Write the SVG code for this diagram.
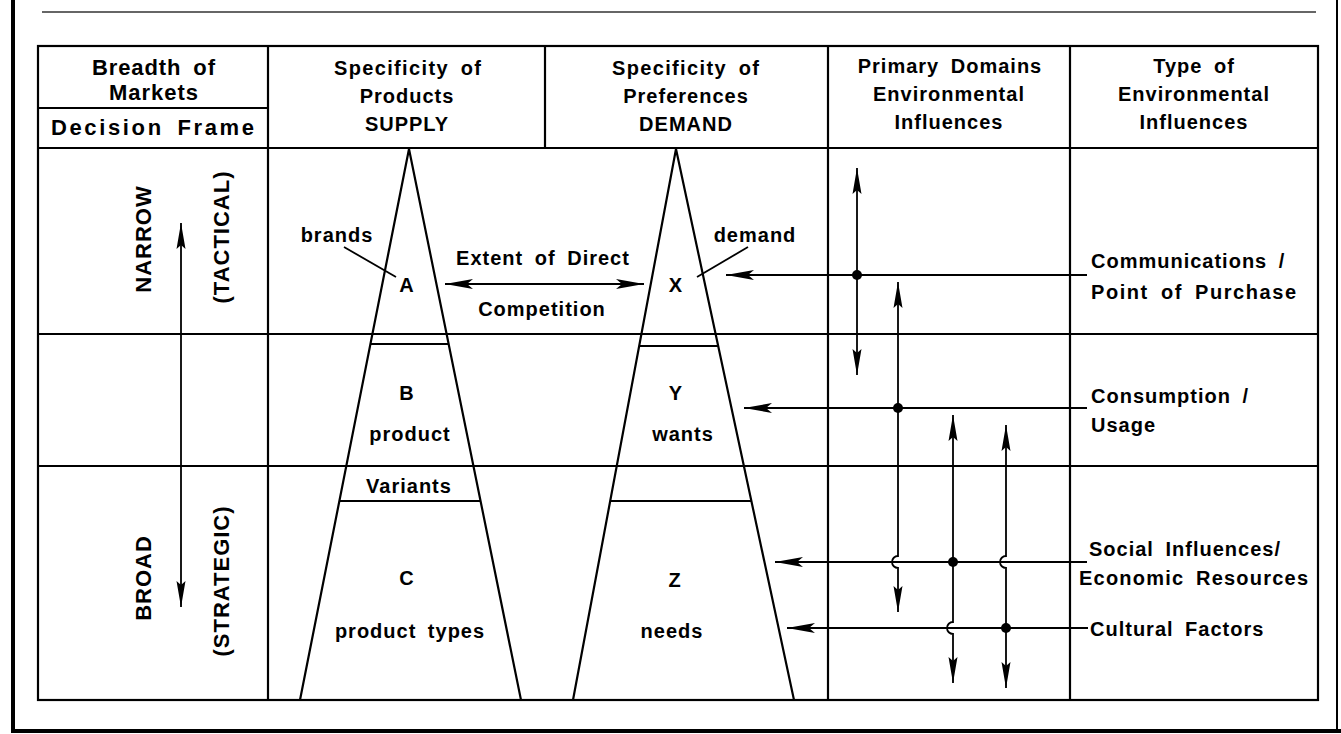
<svg xmlns="http://www.w3.org/2000/svg" width="1341" height="734" viewBox="0 0 1341 734">
<style>
  .ln { stroke:#000; stroke-width:2.2; fill:none; }
  .thin { stroke:#000; stroke-width:1.8; fill:none; }
  .t { font-family:"Liberation Sans", Arial, sans-serif; font-weight:bold; font-size:20px; fill:#000; letter-spacing:1px; word-spacing:5px; }
  .c { text-anchor:middle; }
  .big { font-size:22px; }
  .dot { fill:#000; }
</style>
<defs>
  <marker id="arrV" markerUnits="userSpaceOnUse" markerWidth="30" markerHeight="12" viewBox="-28 -6 30 12" refX="0" refY="0" orient="auto-start-reverse">
    <path d="M0,0 L-26,-4.5 L-22,0 L-26,4.5 Z" fill="#000"/>
  </marker>
  <marker id="arrH" markerUnits="userSpaceOnUse" markerWidth="32" markerHeight="12" viewBox="-30 -6 32 12" refX="0" refY="0" orient="auto-start-reverse">
    <path d="M0,0 L-28,-5 L-22,0 L-28,5 Z" fill="#000"/>
  </marker>
</defs>

<g id="frame">
  <line x1="13" y1="0" x2="13" y2="733" stroke="#000" stroke-width="4"/>
  <line x1="11" y1="731" x2="1341" y2="731" stroke="#000" stroke-width="4"/>
  <line x1="1337" y1="0" x2="1337" y2="733" stroke="#000" stroke-width="2"/>
  <line x1="42" y1="12" x2="1316" y2="12" stroke="#333" stroke-width="1.5"/>
</g>

<g id="table">
  <rect x="38" y="46" width="1280" height="654" class="ln"/>
  <line x1="38" y1="148" x2="1318" y2="148" class="ln"/>
  <line x1="38" y1="108" x2="268" y2="108" class="ln"/>
  <line x1="38" y1="334" x2="1318" y2="334" class="ln"/>
  <line x1="38" y1="466" x2="1318" y2="466" class="ln"/>
  <line x1="268" y1="46" x2="268" y2="700" class="ln"/>
  <line x1="545" y1="46" x2="545" y2="148" class="ln"/>
  <line x1="828" y1="46" x2="828" y2="700" class="ln"/>
  <line x1="1070" y1="46" x2="1070" y2="700" class="ln"/>
</g>

<g id="header-breadth">
  <text class="t c big" x="154" y="75" textLength="124" lengthAdjust="spacing">Breadth of</text>
  <text class="t c big" x="154" y="100">Markets</text>
  <text class="t c big" x="153" y="135" textLength="204" lengthAdjust="spacing">Decision Frame</text>
</g>
<g id="header-supply">
  <text class="t c" x="408" y="75" textLength="148" lengthAdjust="spacing">Specificity of</text>
  <text class="t c" x="407" y="103">Products</text>
  <text class="t c" x="407" y="131">SUPPLY</text>
</g>
<g id="header-demand">
  <text class="t c" x="686" y="75" textLength="148" lengthAdjust="spacing">Specificity of</text>
  <text class="t c" x="686" y="103">Preferences</text>
  <text class="t c" x="686" y="131">DEMAND</text>
</g>
<g id="header-domains">
  <text class="t c" x="950" y="73">Primary Domains</text>
  <text class="t c" x="949" y="101">Environmental</text>
  <text class="t c" x="949" y="129">Influences</text>
</g>
<g id="header-type">
  <text class="t c" x="1194" y="73">Type of</text>
  <text class="t c" x="1194" y="101">Environmental</text>
  <text class="t c" x="1194" y="129">Influences</text>
</g>

<g id="frame-labels">
  <text class="t c big" transform="translate(143,239) rotate(-90)" y="8">NARROW</text>
  <text class="t c big" transform="translate(221,237) rotate(-90)" y="8">(TACTICAL)</text>
  <text class="t c big" transform="translate(143,578) rotate(-90)" y="8">BROAD</text>
  <text class="t c big" transform="translate(221,581) rotate(-90)" y="8">(STRATEGIC)</text>
</g>

<g id="supply-pyramid">
  <path d="M300,700 L409,149 L521,700" class="ln"/>
  <line x1="370" y1="344" x2="449" y2="344" class="ln"/>
  <line x1="340" y1="501" x2="480" y2="501" class="ln"/>
  <text class="t c" x="337" y="242">brands</text>
  <text class="t c" x="407" y="292">A</text>
  <text class="t c" x="407" y="400">B</text>
  <text class="t c" x="410" y="441">product</text>
  <text class="t c" x="409" y="493">Variants</text>
  <text class="t c" x="407" y="585">C</text>
  <text class="t c" x="410" y="638">product types</text>
</g>

<g id="demand-pyramid">
  <path d="M573,700 L676,149 L794,700" class="ln"/>
  <line x1="640" y1="346" x2="718" y2="346" class="ln"/>
  <line x1="611" y1="501" x2="751" y2="501" class="ln"/>
  <text class="t c" x="755" y="242">demand</text>
  <text class="t c" x="676" y="292">X</text>
  <text class="t c" x="676" y="400">Y</text>
  <text class="t c" x="683" y="441">wants</text>
  <text class="t c" x="675" y="587">Z</text>
  <text class="t c" x="672" y="638">needs</text>
</g>

<g id="competition-label">
  <text class="t c" x="543" y="265">Extent of Direct</text>
  <text class="t c" x="542" y="316">Competition</text>
</g>

<g id="influence-labels">
  <text class="t" x="1091" y="268">Communications /</text>
  <text class="t" x="1091" y="299" textLength="206" lengthAdjust="spacing">Point of Purchase</text>
  <text class="t" x="1091" y="403">Consumption /</text>
  <text class="t" x="1091" y="432">Usage</text>
  <text class="t" x="1089" y="556">Social Influences/</text>
  <text class="t" x="1079" y="585" textLength="230" lengthAdjust="spacing">Economic Resources</text>
  <text class="t" x="1090" y="636">Cultural Factors</text>
</g>

<g id="connectors">
  <line x1="181" y1="223" x2="181" y2="607" class="thin" marker-start="url(#arrV)" marker-end="url(#arrV)"/>
  <line x1="344" y1="247" x2="396" y2="277" class="thin"/>
  <line x1="748" y1="247" x2="697" y2="277" class="thin"/>
  <line x1="445" y1="284" x2="644" y2="284" class="thin" marker-start="url(#arrH)" marker-end="url(#arrH)"/>

  <line x1="1087" y1="275" x2="726" y2="275" class="thin" marker-end="url(#arrH)"/>
  <line x1="1087" y1="408" x2="744" y2="408" class="thin" marker-end="url(#arrH)"/>
  <line x1="1087" y1="562" x2="775" y2="562" class="thin" marker-end="url(#arrH)"/>
  <line x1="1088" y1="628" x2="787" y2="628" class="thin" marker-end="url(#arrH)"/>

  <line x1="857" y1="168" x2="857" y2="375" class="thin" marker-start="url(#arrV)" marker-end="url(#arrV)"/>
  <path d="M898,282 L898,556 A6,6 0 0 0 898,568 L898,612" class="thin" marker-start="url(#arrV)" marker-end="url(#arrV)"/>
  <path d="M953,415 L953,622 A6,6 0 0 0 953,634 L953,683" class="thin" marker-start="url(#arrV)" marker-end="url(#arrV)"/>
  <path d="M1006,425 L1006,556 A6,6 0 0 0 1006,568 L1006,688" class="thin" marker-start="url(#arrV)" marker-end="url(#arrV)"/>

  <circle cx="857" cy="275" r="5" class="dot"/>
  <circle cx="898" cy="408" r="5" class="dot"/>
  <circle cx="953" cy="562" r="5" class="dot"/>
  <circle cx="1006" cy="628" r="5" class="dot"/>
</g>
</svg>
